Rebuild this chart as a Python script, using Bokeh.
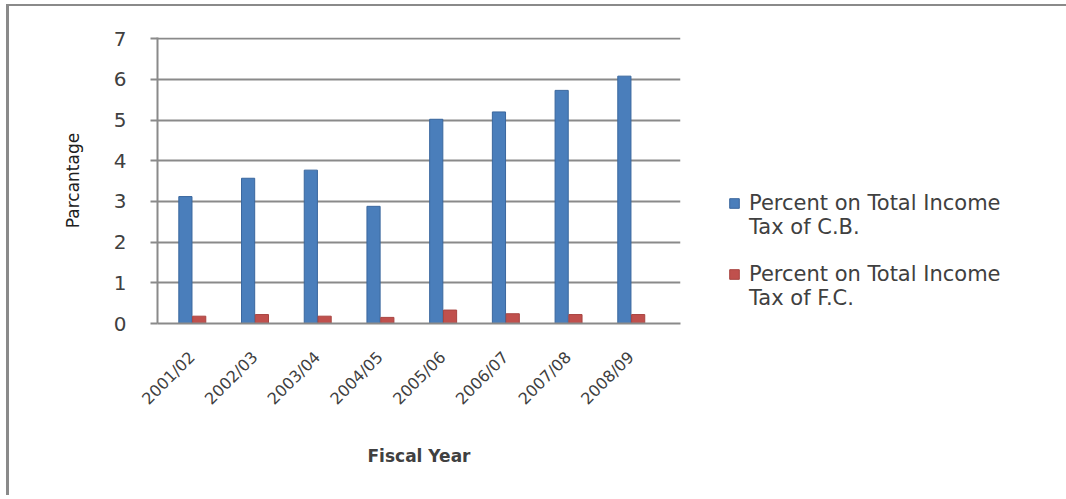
import math
import numpy as np
from bokeh.plotting import figure
from bokeh.models import Range1d, FixedTicker, Legend, LegendItem, ColumnDataSource
from bokeh.embed import file_html
from bokeh.resources import INLINE

years = ["2001/02", "2002/03", "2003/04", "2004/05", "2005/06", "2006/07", "2007/08", "2008/09"]
cb_pct = [3.12, 3.57, 3.77, 2.88, 5.02, 5.2, 5.73, 6.08]
fc_pct = [0.18, 0.22, 0.18, 0.15, 0.33, 0.24, 0.22, 0.22]
y_ticks = [0, 1, 2, 3, 4, 5, 6, 7]
legend_lines = [["Percent on Total Income", "Tax of C.B."],
                ["Percent on Total Income", "Tax of F.C."]]

idx = np.arange(len(years))
src = ColumnDataSource(dict(x_cb=idx - 0.105, x_fc=idx + 0.115, cb=cb_pct, fc=fc_pct))

FONT = "DejaVu Sans"
TXT = "#404040"
GRID = "#8a8a8a"

p = figure(frame_width=523, frame_height=286,
           min_border_left=148, min_border_right=20, min_border_top=31, min_border_bottom=172,
           x_range=Range1d(-0.55, 7.79), y_range=Range1d(0, 7.03),
           output_backend="svg", toolbar_location=None)
p.styles = {"border-top": "2px solid #8a8a8a", "border-left": "3px solid #8a8a8a",
            "margin-left": "6px", "margin-top": "4px"}
p.outline_line_color = None
p.background_fill_color = "white"
p.border_fill_color = "white"

r1 = p.vbar(x="x_cb", top="cb", width=0.21, source=src, fill_color="#4A7EBB", line_color="#3A679E")
r2 = p.vbar(x="x_fc", top="fc", width=0.21, source=src, fill_color="#C0504D", line_color="#A84440")
# invisible renderer for the wrapped second line of each legend entry
blank = p.vbar(x=[], top=[], width=0.1, fill_alpha=0, line_alpha=0)

p.xgrid.visible = False
p.ygrid.grid_line_color = GRID
p.ygrid.grid_line_width = 2
p.ygrid.ticker = FixedTicker(ticks=y_ticks)

ya = p.yaxis[0]
ya.ticker = FixedTicker(ticks=y_ticks)
ya.axis_line_color = GRID
ya.axis_line_width = 2
ya.major_tick_line_color = GRID
ya.major_tick_line_width = 2
ya.major_tick_out = 7
ya.major_tick_in = 0
ya.minor_tick_line_color = None
ya.major_label_text_font = FONT
ya.major_label_text_font_size = "20px"
ya.major_label_text_color = TXT
ya.major_label_standoff = 24
ya.axis_label = "Parcantage"
ya.axis_label_text_font = FONT
ya.axis_label_text_font_style = "normal"
ya.axis_label_text_font_size = "17px"
ya.axis_label_text_color = "#202020"
ya.axis_label_standoff = 28

xa = p.xaxis[0]
xa.ticker = FixedTicker(ticks=list(range(len(years))))
xa.major_label_overrides = {i: y for i, y in enumerate(years)}
xa.major_label_orientation = math.pi / 4
xa.axis_line_color = GRID
xa.axis_line_width = 2
xa.major_tick_line_color = None
xa.minor_tick_line_color = None
xa.major_label_text_font = FONT
xa.major_label_text_font_size = "16px"
xa.major_label_text_color = TXT
xa.major_label_standoff = 25
xa.axis_label = "Fiscal Year"
xa.axis_label_text_font = FONT
xa.axis_label_text_font_style = "bold"
xa.axis_label_text_font_size = "17px"
xa.axis_label_text_color = TXT
xa.axis_label_standoff = 28

items = [LegendItem(label=legend_lines[0][0], renderers=[r1]),
         LegendItem(label=legend_lines[0][1], renderers=[blank]),
         LegendItem(label=" ", renderers=[blank]),
         LegendItem(label=legend_lines[1][0], renderers=[r2]),
         LegendItem(label=legend_lines[1][1], renderers=[blank])]
legend = Legend(items=items, location=(48, 13))
legend.border_line_color = None
legend.background_fill_alpha = 0
legend.padding = 0
legend.margin = 0
legend.glyph_width = 12
legend.glyph_height = 12
legend.label_standoff = 9
legend.spacing = 0
legend.label_height = 23
legend.label_text_font = FONT
legend.label_text_font_size = "21px"
legend.label_text_color = TXT
p.add_layout(legend, "right")

open("out.html", "w").write(file_html(p, INLINE))
